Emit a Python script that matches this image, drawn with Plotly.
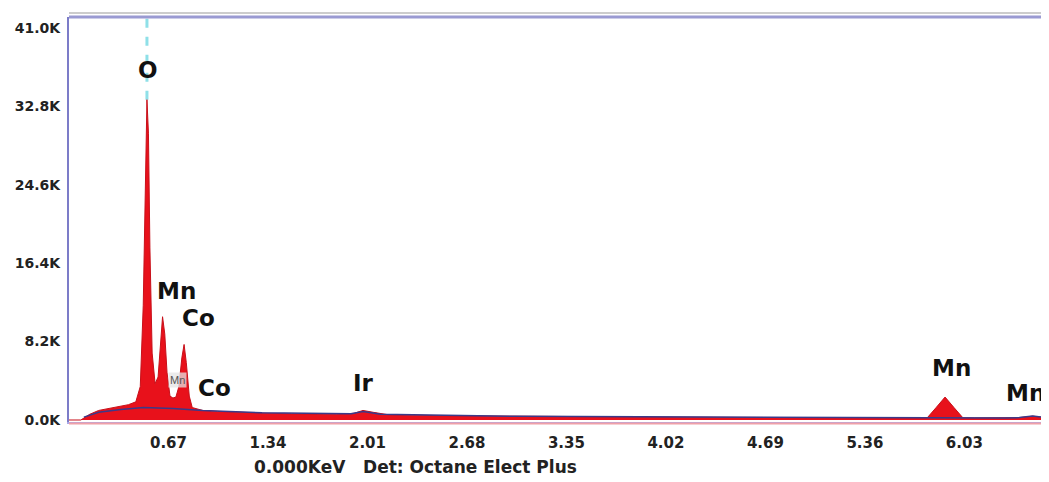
import plotly.graph_objects as go

# Spectrum (energy keV, counts)
energy = [0.00, 0.08, 0.10, 0.14, 0.20, 0.30, 0.40, 0.45, 0.48, 0.50, 0.515, 0.525, 0.535, 0.545,
          0.56, 0.58, 0.60, 0.615, 0.63, 0.645, 0.66, 0.68, 0.70, 0.72, 0.74, 0.76, 0.775, 0.79,
          0.81, 0.83, 0.90, 1.00, 1.20, 1.34, 1.50, 1.80, 1.92, 1.98, 2.05, 2.15, 2.50, 3.00,
          3.50, 4.00, 4.50, 5.00, 5.50, 5.78, 5.84, 5.90, 5.96, 6.02, 6.10, 6.30, 6.40, 6.49, 6.58, 6.60]
counts = [0, 0, 200, 600, 1000, 1300, 1600, 1900, 3500, 12000, 24000, 33500, 30000, 18000,
          7000, 3800, 4500, 8000, 10800, 9000, 5000, 2500, 2300, 2400, 3500, 6500, 7900, 6000,
          2500, 1300, 1000, 900, 750, 700, 650, 600, 700, 1000, 800, 550, 450, 380,
          330, 300, 270, 250, 230, 230, 1300, 2400, 1300, 230, 220, 200, 250, 400, 250, 200]

# Second (outline) spectrum near the baseline
overlay_energy = [0.10, 0.20, 0.35, 0.50, 0.70, 0.90, 1.30, 1.90, 1.98, 2.10, 3.00, 4.00, 5.00, 5.80, 6.30, 6.40, 6.49, 6.58, 6.60]
overlay_counts = [300, 800, 1100, 1300, 1200, 1000, 750, 650, 900, 600, 380, 300, 250, 230, 200, 250, 420, 250, 200]

# O marker line
marker_energy = [0.525, 0.525]
marker_counts = [33500, 42000]

x_ticks = [0.67, 1.34, 2.01, 2.68, 3.35, 4.02, 4.69, 5.36, 6.03]
x_ticktext = ["0.67", "1.34", "2.01", "2.68", "3.35", "4.02", "4.69", "5.36", "6.03"]
y_ticks = [0, 8200, 16400, 24600, 32800, 41000]
y_ticktext = ["0.0K", "8.2K", "16.4K", "24.6K", "32.8K", "41.0K"]

labels = [("O", 0.532, 36600), ("Mn", 0.727, 13500), ("Co", 0.869, 10670),
          ("Co", 0.983, 3350), ("Ir", 1.98, 3870), ("Mn", 5.94, 5440)]

FONT = "Liberation Sans, Arial"
BOLDFONT = "DejaVu Sans"

fig = go.Figure()
fig.add_trace(go.Scatter(x=marker_energy, y=marker_counts, mode="lines",
                         line=dict(color="#8fe0e8", width=3, dash="dash"), showlegend=False))
fig.add_trace(go.Scatter(x=energy, y=counts, mode="lines", fill="tozeroy",
                         fillcolor="#e8111b", line=dict(color="#c8101a", width=1),
                         showlegend=False))
fig.add_trace(go.Scatter(x=overlay_energy, y=overlay_counts, mode="lines",
                         line=dict(color="#3a3a8a", width=1.5), showlegend=False))

for text, x, y in labels:
    fig.add_annotation(x=x, y=y, text="<b>%s</b>" % text, showarrow=False,
                       font=dict(family=BOLDFONT, size=23, color="#111"))
fig.add_annotation(x=0.734, y=4180, text="Mn", showarrow=False, bgcolor="rgba(228,228,228,0.75)",
                   font=dict(family=FONT, size=11, color="#555"))
fig.add_annotation(x=6.30, y=2820, text="<b>Mn</b>", showarrow=False, xanchor="left",
                   font=dict(family=BOLDFONT, size=23, color="#111"))
fig.add_annotation(xref="paper", yref="paper", x=0.187, y=-0.11, xanchor="left", yanchor="middle",
                   text="<b>0.000KeV&nbsp;&nbsp; Det: Octane Elect Plus</b>", showarrow=False,
                   font=dict(family=BOLDFONT, size=17, color="#222"))

# border lines
fig.add_shape(type="line", xref="paper", yref="paper", x0=0, x1=1, y0=1.0, y1=1.0,
              line=dict(color="#9a9ad2", width=3))
fig.add_shape(type="line", xref="paper", yref="paper", x0=0, x1=1, y0=1.01, y1=1.01,
              line=dict(color="#cccccc", width=2))
fig.add_shape(type="line", xref="paper", yref="paper", x0=0, x1=1, y0=-0.004, y1=-0.004,
              line=dict(color="#f0a0a8", width=2))

# The page body has an 8 px default margin, so the figure is sized to end at the window edge.
fig.update_layout(
    width=1041, height=474,
    margin=dict(l=61, r=0, t=9, b=60, autoexpand=False),
    paper_bgcolor="white", plot_bgcolor="white",
    font=dict(family=FONT, color="#222"),
    xaxis=dict(range=[0, 6.6], tickvals=x_ticks, ticktext=["<b>%s</b>" % t for t in x_ticktext],
               showgrid=False, zeroline=False, showline=True, linecolor="#a8a8e8", linewidth=2,
               ticks="", tickfont=dict(family=BOLDFONT, size=15, color="#222"),
               ticklabelstandoff=6, automargin=False),
    yaxis=dict(range=[-210, 42150], tickvals=y_ticks, ticktext=["<b>%s</b>" % t for t in y_ticktext],
               showgrid=False, zeroline=False, showline=True, linecolor="#7c7cc8", linewidth=2,
               ticks="", tickfont=dict(family=BOLDFONT, size=14, color="#222"),
               ticklabelstandoff=4, automargin=False),
)

fig.write_html("out.html")
